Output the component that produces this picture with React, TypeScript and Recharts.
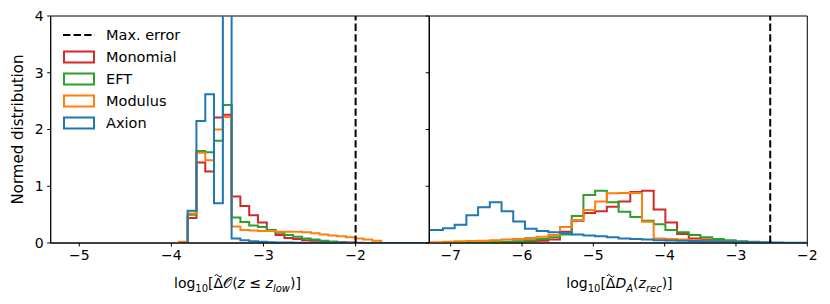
import React from 'react';
import { ComposedChart, Line, XAxis, YAxis, ReferenceLine, ReferenceArea, Legend } from 'recharts';

const FONT = '"DejaVu Sans", sans-serif';

const seriesNames = ['Monomial', 'EFT', 'Modulus', 'Axion'];
const seriesColors = ['#d62728', '#2ca02c', '#ff7f0e', '#1f77b4'];
const maxErrorLabel = 'Max. error';
const yLabel = 'Normed distribution';
const yTicks = [0, 1, 2, 3, 4];

// left panel: log10 error of the low-z observable
const leftTicks = [-5, -4, -3, -2];
const leftDomain = [-5.31, -1.2];
const leftMaxError = -2;
const leftEdges = [
  -3.918, -3.823, -3.728, -3.632, -3.537, -3.441, -3.346, -3.251, -3.155, -3.06,
  -2.964, -2.869, -2.773, -2.678, -2.582, -2.487, -2.392, -2.296, -2.201, -2.105,
  -2.01, -1.914, -1.819, -1.723, -1.628, -1.533, -1.437, -1.342, -1.246, -1.151,
];
const leftMonomial = [
  0, 0.44, 1.42, 1.26, 2.21, 2.26, 0.82, 0.65, 0.49, 0.36, 0.23, 0.14, 0.09, 0.07,
  0.05, 0.04, 0.03, 0.02, 0.015, 0.01, 0.005,
];
const leftEft = [
  0, 0.5, 1.62, 1.6, 1.8, 2.43, 0.45, 0.37, 0.31, 0.28, 0.23, 0.18, 0.14, 0.11, 0.08,
  0.06, 0.04, 0.02, 0.01,
];
const leftModulus = [
  0.02, 0.52, 1.59, 1.46, 2.0, 2.22, 0.29, 0.23, 0.22, 0.21, 0.21, 0.2, 0.2, 0.2, 0.19,
  0.17, 0.15, 0.13, 0.12, 0.1, 0.08, 0.06, 0.04,
];
const leftAxion = [
  0, 0.57, 2.15, 2.62, 0.7, 5.5, 0.08, 0.05, 0.03, 0.02, 0.015, 0.01, 0.008, 0.006,
  0.005, 0.004, 0.004, 0.003, 0.003, 0.003, 0.002, 0.002, 0.002, 0.002, 0.002, 0.001,
  0.001, 0.001, 0.001,
];

// right panel: log10 error of D_A at recombination
const rightTicks = [-7, -6, -5, -4, -3, -2];
const rightDomain = [-7.3, -2];
const rightMaxError = -2.52;
const rightEdges = [
  -7.436, -7.272, -7.108, -6.944, -6.78, -6.616, -6.452, -6.287, -6.123, -5.959,
  -5.795, -5.631, -5.467, -5.303, -5.139, -4.975, -4.811, -4.646, -4.482, -4.318,
  -4.154, -3.99, -3.826, -3.662, -3.498, -3.334, -3.17, -3.005, -2.841, -2.677,
  -2.513, -2.349, -2.185, -2.021, -1.857,
];
const rightMonomial = [
  0, 0, 0, 0, 0.005, 0.008, 0.01, 0.015, 0.02, 0.03, 0.04, 0.06, 0.2, 0.39, 0.53,
  0.56, 0.64, 0.73, 0.9, 0.92, 0.59, 0.36, 0.16, 0.08, 0.06, 0.045, 0.03, 0.02, 0.012,
  0.005,
];
const rightEft = [
  0, 0, 0, 0, 0.005, 0.01, 0.015, 0.02, 0.03, 0.05, 0.07, 0.1, 0.15, 0.476, 0.846,
  0.92, 0.72, 0.55, 0.46, 0.39, 0.33, 0.23, 0.19, 0.14, 0.1, 0.07, 0.05, 0.03, 0.02,
  0.01,
];
const rightModulus = [
  0.01, 0.015, 0.02, 0.03, 0.035, 0.04, 0.05, 0.06, 0.07, 0.09, 0.11, 0.14, 0.28,
  0.405, 0.58, 0.73, 0.875, 0.88, 0.88, 0.375, 0.08, 0.07, 0.06, 0.05, 0.04, 0.03,
  0.02, 0.015, 0.01,
];
const rightAxion = [
  0.23, 0.23, 0.26, 0.32, 0.49, 0.63, 0.72, 0.56, 0.38, 0.25, 0.21, 0.19, 0.17, 0.15,
  0.13, 0.12, 0.1, 0.08, 0.07, 0.06, 0.05, 0.045, 0.04, 0.035, 0.03, 0.025, 0.02,
  0.017, 0.013, 0.01, 0.008, 0.006, 0.004, 0.003,
];

// outline of a step histogram: rise at the first edge, drop after the last bin
function toSteps(edges: number[], values: number[]) {
  const pts = [{ x: edges[0], y: 0 }];
  values.forEach((v, i) => pts.push({ x: edges[i], y: v }));
  pts.push({ x: edges[values.length], y: 0 });
  return pts;
}

const minus = (v: number) => String(v).replace('-', '\u2212');

function LegendBox() {
  return (
    <svg width={140} height={120} style={{ display: 'block' }}>
      <line x1={3} x2={35} y1={11} y2={11} stroke="#000" strokeWidth={2} strokeDasharray="7.4 3.2" />
      <text x={46} y={11} dominantBaseline="central" fontSize={14.5} fontFamily={FONT}>
        {maxErrorLabel}
      </text>
      {seriesNames.map((name, i) => (
        <g key={name}>
          <rect x={4} y={33 + 22 * i - 5.5} width={30} height={11} fill="none" stroke={seriesColors[i]} strokeWidth={2} />
          <text x={46} y={33 + 22 * i} dominantBaseline="central" fontSize={14.5} fontFamily={FONT}>
            {name}
          </text>
        </g>
      ))}
    </svg>
  );
}

const sub = { fontSize: 10 };
// width of "log" + subscript "10" + "[" in DejaVu Sans, up to the Δ
const DELTA_OFFSET = 39.5;

// small tilde drawn over the Δ
function tilde(x: number, y: number) {
  return <path d={`M${x - 3.6},${y + 0.8} q1.8,-2.6 3.6,0 t3.6,0`} fill="none" stroke="#000" strokeWidth={1} />;
}

function leftXLabel(props: any) {
  const vb = props.viewBox;
  const x0 = vb.x + vb.width / 2 - 66;
  const base = vb.y + 45;
  return (
    <g>
      <text x={x0} y={base} textAnchor="start" fontSize={14} fontFamily={FONT} fill="#000">
        <tspan>log</tspan>
        <tspan {...sub} dy={4}>10</tspan>
        <tspan dy={-4}>[Δ</tspan>
        <tspan>𝒪</tspan>
        <tspan>(</tspan>
        <tspan fontStyle="italic">z</tspan>
        <tspan> ≤ </tspan>
        <tspan fontStyle="italic">z</tspan>
        <tspan {...sub} fontStyle="italic" dy={4}>low</tspan>
        <tspan dy={-4}>)]</tspan>
      </text>
      {tilde(x0 + DELTA_OFFSET + 4.8, base - 13)}
    </g>
  );
}

function rightXLabel(props: any) {
  const vb = props.viewBox;
  const x0 = vb.x + vb.width / 2 - 52;
  const base = vb.y + 45;
  return (
    <g>
      <text x={x0} y={base} textAnchor="start" fontSize={14} fontFamily={FONT} fill="#000">
        <tspan>log</tspan>
        <tspan {...sub} dy={4}>10</tspan>
        <tspan dy={-4}>[Δ</tspan>
        <tspan fontStyle="italic">D</tspan>
        <tspan {...sub} fontStyle="italic" dy={4}>A</tspan>
        <tspan dy={-4}>(</tspan>
        <tspan fontStyle="italic">z</tspan>
        <tspan {...sub} fontStyle="italic" dy={4}>rec</tspan>
        <tspan dy={-4}>)]</tspan>
      </text>
      {tilde(x0 + DELTA_OFFSET + 4.8, base - 13)}
    </g>
  );
}

function yAxisLabel(props: any) {
  const vb = props.viewBox;
  const cy = vb.y + vb.height / 2;
  return (
    <text x={18} y={cy} transform={`rotate(-90 18 ${cy})`} textAnchor="middle" dominantBaseline="central" fontSize={15} fontFamily={FONT} fill="#000">
      {yLabel}
    </text>
  );
}

const tickStyle = { fill: '#000', fontSize: 14, fontFamily: FONT };

function Panel(props: {
  width: number;
  yWidth: number;
  right: number;
  domain: number[];
  ticks: number[];
  edges: number[];
  series: number[][];
  maxError: number;
  main: boolean;
  xLabel: (p: any) => React.ReactNode;
}) {
  const { width, yWidth, right, domain, ticks, edges, series, maxError, main, xLabel } = props;
  return (
    <ComposedChart width={width} height={304} margin={{ top: 16, right, bottom: 31, left: 0 }}>
      <XAxis
        type="number"
        dataKey="x"
        domain={domain}
        ticks={ticks}
        allowDataOverflow
        tickFormatter={minus}
        tick={tickStyle}
        tickSize={3.5}
        tickMargin={3.5}
        stroke="#000"
        height={30}
        label={xLabel}
      />
      <YAxis
        type="number"
        domain={[0, 4]}
        ticks={yTicks}
        allowDataOverflow
        tickFormatter={main ? (v: number) => String(v) : () => ''}
        tick={tickStyle}
        tickSize={3.5}
        tickMargin={3.5}
        stroke="#000"
        width={yWidth}
        label={main ? yAxisLabel : undefined}
      />
      {series.map((vals, i) => (
        <Line
          key={seriesNames[i]}
          data={toSteps(edges, vals)}
          dataKey="y"
          type="stepAfter"
          stroke={seriesColors[i]}
          strokeWidth={2}
          dot={false}
          activeDot={false}
          isAnimationActive={false}
        />
      ))}
      <ReferenceLine x={maxError} stroke="#000" strokeWidth={2} strokeDasharray="7.4 3.2" />
      <ReferenceArea x1={domain[0]} x2={domain[1]} y1={0} y2={4} fill="none" stroke="#000" strokeWidth={1} />
      {main && (
        <Legend
          layout="vertical"
          align="center"
          verticalAlign="middle"
          content={() => <LegendBox />}
          wrapperStyle={{ left: 60, top: 24, width: 140, height: 120 }}
        />
      )}
    </ComposedChart>
  );
}

export default function App() {
  return (
    <div style={{ position: 'absolute', left: 0, top: 0, width: 830, height: 304, background: '#fff' }}>
      <div style={{ position: 'absolute', left: 0, top: 0 }}>
        <Panel
          width={430}
          yWidth={50.7}
          right={0.7}
          domain={leftDomain}
          ticks={leftTicks}
          edges={leftEdges}
          series={[leftMonomial, leftEft, leftModulus, leftAxion]}
          maxError={leftMaxError}
          main
          xLabel={leftXLabel}
        />
      </div>
      <div style={{ position: 'absolute', left: 400, top: 0 }}>
        <Panel
          width={430}
          yWidth={29.3}
          right={22.7}
          domain={rightDomain}
          ticks={rightTicks}
          edges={rightEdges}
          series={[rightMonomial, rightEft, rightModulus, rightAxion]}
          maxError={rightMaxError}
          main={false}
          xLabel={rightXLabel}
        />
      </div>
    </div>
  );
}
